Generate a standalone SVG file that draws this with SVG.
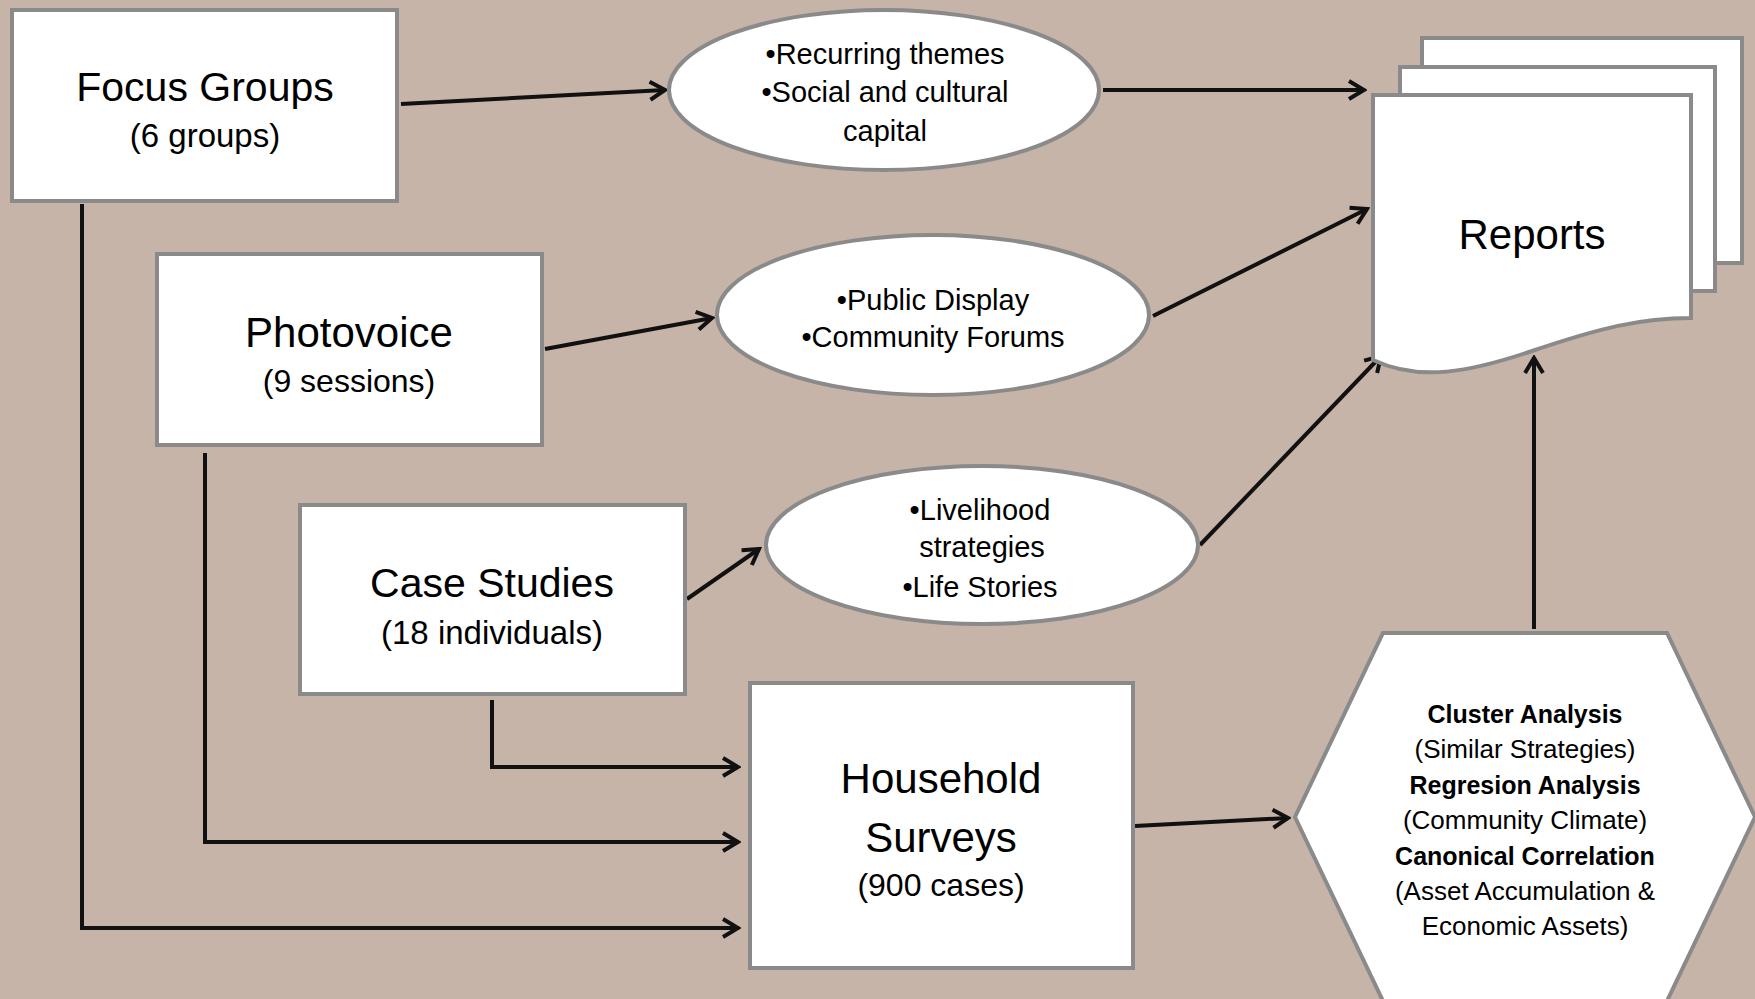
<svg xmlns="http://www.w3.org/2000/svg" width="1755" height="999" viewBox="0 0 1755 999">
<style>
.box{fill:#fff;stroke:#8a8a8a;stroke-width:4}
.t{font-family:"Liberation Sans",Arial,sans-serif;fill:#000;text-anchor:middle}
.b{font-weight:bold}
.c{fill:none;stroke:#111;stroke-width:4;stroke-linejoin:miter}
</style>
<defs>
<marker id="ah" markerUnits="userSpaceOnUse" viewBox="0 0 22 22" markerWidth="22" markerHeight="22" refX="19" refY="11" orient="auto">
<path d="M4,2 L19,11 L4,20" fill="none" stroke="#111" stroke-width="4"/>
</marker>
</defs>
<rect width="1755" height="999" fill="#c5b4a7"/>

<g id="connectors">
<path class="c" d="M401,104 L665,90" marker-end="url(#ah)"/>
<path class="c" d="M1103,90 L1364,90" marker-end="url(#ah)"/>
<path class="c" d="M545,349 L712,318" marker-end="url(#ah)"/>
<path class="c" d="M1153,316 L1367,209" marker-end="url(#ah)"/>
<path class="c" d="M687,599 L759,549" marker-end="url(#ah)"/>
<path class="c" d="M1200,545 L1381,356" marker-end="url(#ah)"/>
<path class="c" d="M1534,629 L1534,358" marker-end="url(#ah)"/>
<path class="c" d="M1135,826 L1288,818" marker-end="url(#ah)"/>
<path class="c" d="M82,204 L82,928 L738,928" marker-end="url(#ah)"/>
<path class="c" d="M205,453 L205,842 L738,842" marker-end="url(#ah)"/>
<path class="c" d="M492,700 L492,767 L738,767" marker-end="url(#ah)"/>
</g>

<g id="focus-groups">
<rect class="box" x="12" y="10" width="385" height="191"/>
<text class="t" x="205" y="101" font-size="41">Focus Groups</text>
<text class="t" x="205" y="147" font-size="33">(6 groups)</text>
</g>

<g id="photovoice">
<rect class="box" x="157" y="254" width="385" height="191"/>
<text class="t" x="349" y="347" font-size="42">Photovoice</text>
<text class="t" x="349" y="392" font-size="32">(9 sessions)</text>
</g>

<g id="case-studies">
<rect class="box" x="300" y="505" width="385" height="189"/>
<text class="t" x="492" y="597" font-size="41">Case Studies</text>
<text class="t" x="492" y="644" font-size="33">(18 individuals)</text>
</g>

<g id="household-surveys">
<rect class="box" x="750" y="683" width="383" height="285"/>
<text class="t" x="941" y="793" font-size="42">Household</text>
<text class="t" x="941" y="852" font-size="42">Surveys</text>
<text class="t" x="941" y="896" font-size="32">(900 cases)</text>
</g>

<g id="ellipse-themes">
<ellipse class="box" cx="884" cy="90" rx="215" ry="80"/>
<text class="t" x="885" y="64" font-size="29">•Recurring themes</text>
<text class="t" x="885" y="102" font-size="29">•Social and cultural</text>
<text class="t" x="885" y="141" font-size="29">capital</text>
</g>

<g id="ellipse-display">
<ellipse class="box" cx="933" cy="315" rx="216" ry="80"/>
<text class="t" x="933" y="310" font-size="29">•Public Display</text>
<text class="t" x="933" y="347" font-size="29">•Community Forums</text>
</g>

<g id="ellipse-livelihood">
<ellipse class="box" cx="982" cy="545" rx="216" ry="79"/>
<text class="t" x="980" y="520" font-size="29">•Livelihood</text>
<text class="t" x="982" y="557" font-size="29">strategies</text>
<text class="t" x="980" y="597" font-size="29">•Life Stories</text>
</g>

<g id="reports">
<rect class="box" x="1422" y="38" width="320" height="225"/>
<rect class="box" x="1400" y="67" width="315" height="224"/>
<path class="box" d="M1373,95 H1691 V318 C1640,318 1600,328 1532,351 C1470,372 1420,382 1373,360 Z"/>
<text class="t" x="1532" y="249" font-size="42">Reports</text>
</g>

<g id="analysis">
<polygon class="box" points="1383,633 1667,633 1755,817 1667,1001 1383,1001 1295,817"/>
<text class="t b" x="1525" y="723" font-size="25">Cluster Analysis</text>
<text class="t" x="1525" y="758" font-size="26">(Similar Strategies)</text>
<text class="t b" x="1525" y="794" font-size="25">Regresion Analysis</text>
<text class="t" x="1525" y="829" font-size="26">(Community Climate)</text>
<text class="t b" x="1525" y="865" font-size="25">Canonical Correlation</text>
<text class="t" x="1525" y="900" font-size="26">(Asset Accumulation &amp;</text>
<text class="t" x="1525" y="935" font-size="26">Economic Assets)</text>
</g>
</svg>
